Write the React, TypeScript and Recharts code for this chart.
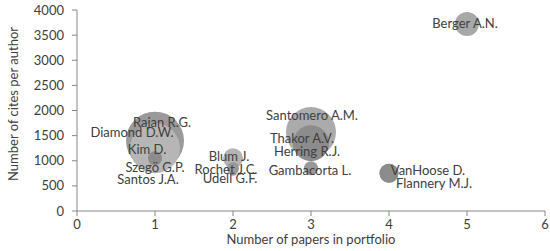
import { Cell, Label, Scatter, ScatterChart, XAxis, YAxis, ZAxis } from "recharts";

const authors = [
  "Santos J.A.", "Szegö G.P.", "Rajan R.G.", "Diamond D.W.", "Kim D.",
  "Blum J.", "Rochet J.C.", "Udell G.F.",
  "Santomero A.M.", "Herring R.J.", "Thakor A.V.", "Gambacorta L.",
  "Flannery M.J.", "VanHoose D.", "Berger A.N.",
];
const papers = [1, 1, 1, 1, 1, 2, 2, 2, 3, 3, 3, 3, 4, 4, 5];
const cites = [900, 1100, 1400, 1250, 1050, 1050, 850, 780, 1570, 1200, 1350, 850, 750, 750, 3720];
const bubble = [36, 36, 841, 625, 49, 100, 36, 16, 625, 100, 324, 49, 90, 90, 144];

const xTicks = [0, 1, 2, 3, 4, 5, 6];
const yTicks = [0, 500, 1000, 1500, 2000, 2500, 3000, 3500, 4000];

// bubble shades (grey, like the original)
const fills = [
  "#999999", "#999999", "#9a9a9a", "#b6b6b6", "#8c8c8c",
  "#b4b4b4", "#999999", "#999999",
  "#ababab", "#8c8c8c", "#8c8c8c", "#999999",
  "#8c8c8c", "#8c8c8c", "#a8a8a8",
];

// label nudges from the bubble centre, px
const labelShift: Record<string, [number, number]> = {
  "Santos J.A.": [-7, 13],
  "Szegö G.P.": [0, 11],
  "Rajan R.G.": [7, -19],
  "Diamond D.W.": [-23, -16],
  "Kim D.": [-8, -9],
  "Blum J.": [-4, -2],
  "Rochet J.C.": [-7, 1],
  "Udell G.F.": [-3, 6],
  "Santomero A.M.": [1, -17],
  "Herring R.J.": [-4, 0],
  "Thakor A.V.": [-9, -5],
  "Gambacorta L.": [-1, 2],
  "Flannery M.J.": [45, 10],
  "VanHoose D.": [39, -3],
  "Berger A.N.": [-2, -1],
};

const rows = authors.map((name, i) => ({ name, x: papers[i], y: cites[i], z: bubble[i] }));

const FONT = "Lato, 'Open Sans', sans-serif";
const TXT = "#404040";
const AXIS = "#868686";

type PointProps = { cx?: number; cy?: number; payload?: { name: string } };

function NameTag(props: PointProps) {
  const { cx = 0, cy = 0, payload } = props;
  if (!payload) return null;
  const [dx, dy] = labelShift[payload.name] ?? [0, 0];
  return (
    <text
      x={cx + dx}
      y={cy + dy}
      textAnchor="middle"
      dominantBaseline="central"
      fontFamily={FONT}
      fontSize={13}
      fill={TXT}
    >
      {payload.name}
    </text>
  );
}

export default function App() {
  return (
    <div style={{ position: "absolute", left: 0, top: 0, background: "#fff" }}>
      <ScatterChart width={550} height={251} margin={{ top: 10, right: 5, bottom: 0, left: 0 }}>
        <XAxis
          type="number"
          dataKey="x"
          domain={[0, 6]}
          ticks={xTicks}
          height={40}
          stroke={AXIS}
          tickSize={5}
          tickMargin={4}
          tick={{ fill: TXT, fontSize: 13, fontFamily: FONT }}
        >
          <Label
            value="Number of papers in portfolio"
            position="insideBottom"
            offset={7}
            fill={TXT}
            fontSize={13}
            fontFamily={FONT}
          />
        </XAxis>
        <YAxis
          type="number"
          dataKey="y"
          domain={[0, 4000]}
          ticks={yTicks}
          width={77}
          stroke={AXIS}
          tickSize={5}
          tickMargin={8}
          tick={{ fill: TXT, fontSize: 13, fontFamily: FONT }}
        >
          <Label
            content={() => (
              <text
                x={13}
                y={104}
                transform="rotate(-90 13 104)"
                textAnchor="middle"
                dominantBaseline="central"
                fill={TXT}
                fontSize={13}
                fontFamily={FONT}
              >
                Number of cites per author
              </text>
            )}
          />
        </YAxis>
        <ZAxis type="number" dataKey="z" domain={[0, 900]} range={[0, Math.PI * 900]} />
        <Scatter data={rows} isAnimationActive={false}>
          {rows.map((r, i) => (
            <Cell key={r.name} fill={fills[i]} />
          ))}
        </Scatter>
        <Scatter data={rows} isAnimationActive={false} shape={(p: PointProps) => <NameTag {...p} />} />
      </ScatterChart>
    </div>
  );
}
